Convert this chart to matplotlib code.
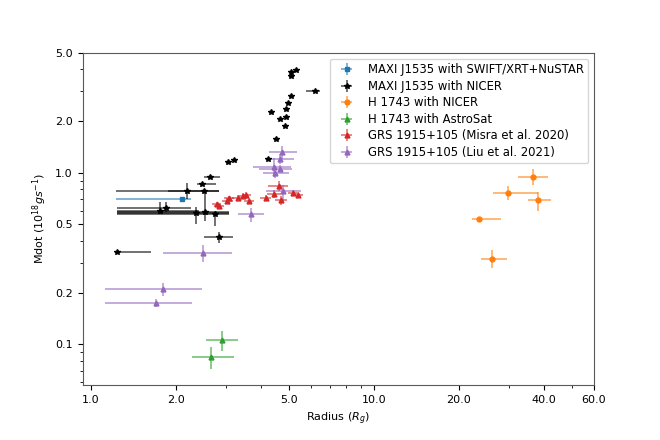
import numpy as np
import matplotlib
matplotlib.use('Agg')
import matplotlib.pyplot as plt
from matplotlib.ticker import FormatStrFormatter, NullFormatter, FixedLocator
from matplotlib.colors import to_rgba

# MAXI J1535 with SWIFT/XRT+NuSTAR
swift_r = [2.10]
swift_m = [0.706]
swift_rerr = [[0.87], [0.16]]
swift_merr = [[0.01], [0.01]]

# MAXI J1535 with NICER
nicer_r = [5.10, 5.31, 5.11, 6.19, 5.10, 4.96, 4.91, 4.32, 4.67, 4.88, 4.84, 4.50, 4.24,
           3.06, 3.21, 2.64, 2.47, 2.185, 2.51, 1.76, 1.85, 2.345, 2.53, 2.74, 2.85, 1.242]
nicer_m = [3.85, 3.99, 3.64, 3.00, 2.79, 2.55, 2.36, 2.26, 2.07, 2.10, 1.87, 1.58, 1.195,
           1.15, 1.19, 0.948, 0.863, 0.782, 0.778, 0.598, 0.626, 0.585, 0.590, 0.572, 0.422, 0.345]
nicer_rerr_lo = [0.03, 0.03, 0.03, 0.43, 0.03, 0.03, 0.03, 0.03, 0.03, 0.03, 0.03, 0.03, 0.03,
                 0.03, 0.03, 0.13, 0.10, 0.31, 1.28, 0.525, 0.615, 1.11, 1.29, 1.50, 0.33, 0.0]
nicer_rerr_hi = [0.03, 0.03, 0.03, 0.26, 0.03, 0.03, 0.03, 0.03, 0.03, 0.03, 0.03, 0.03, 0.03,
                 0.03, 0.03, 0.22, 0.30, 0.66, 0.34, 0.66, 0.41, 0.745, 0.56, 0.35, 0.34, 0.39]
nicer_merr_lo = [0.02, 0.02, 0.02, 0.02, 0.02, 0.02, 0.02, 0.02, 0.02, 0.02, 0.02, 0.02, 0.01,
                 0.01, 0.01, 0.01, 0.01, 0.08, 0.01, 0.026, 0.038, 0.085, 0.067, 0.08, 0.03, 0.005]
nicer_merr_hi = [0.02, 0.02, 0.02, 0.02, 0.02, 0.02, 0.02, 0.02, 0.02, 0.02, 0.02, 0.02, 0.01,
                 0.01, 0.01, 0.01, 0.01, 0.09, 0.01, 0.074, 0.046, 0.043, 0.188, 0.02, 0.03, 0.005]

# H 1743 with NICER
h_nicer_r = [36.4, 29.8, 38.0, 23.6, 26.2]
h_nicer_m = [0.948, 0.765, 0.690, 0.535, 0.313]
h_nicer_rerr = [[4.1, 3.4, 2.9, 1.3, 2.3], [4.9, 8.2, 4.4, 4.6, 3.4]]
h_nicer_merr = [[0.10, 0.07, 0.09, 0.02, 0.034], [0.11, 0.07, 0.085, 0.02, 0.04]]

# H 1743 with AstroSat
h_astro_r = [2.90, 2.67]
h_astro_m = [0.1055, 0.0847]
h_astro_rerr = [[0.35, 0.40], [0.42, 0.54]]
h_astro_merr = [[0.0137, 0.0127], [0.014, 0.012]]

# GRS 1915+105 (Misra et al. 2020)
misra_r = [2.79, 2.84, 3.04, 3.08, 3.30, 3.44, 3.54, 3.63, 4.16, 4.61, 4.45, 4.72, 5.17, 5.38]
misra_m = [0.66, 0.64, 0.685, 0.71, 0.715, 0.73, 0.745, 0.685, 0.715, 0.835, 0.75, 0.69, 0.765, 0.745]
misra_rerr = [0.10, 0.12, 0.13, 0.12, 0.14, 0.12, 0.13, 0.14, 0.19, 0.37, 0.24, 0.23, 0.20, 0.22]
misra_merr = [0.02, 0.02, 0.03, 0.02, 0.03, 0.03, 0.03, 0.03, 0.03, 0.055, 0.04, 0.038, 0.03, 0.03]

# GRS 1915+105 (Liu et al. 2021)
liu_r = [4.74, 4.66, 4.45, 4.66, 4.48, 4.76, 3.685, 2.487, 1.80, 1.70]
liu_m = [1.318, 1.206, 1.083, 1.055, 1.0, 0.782, 0.572, 0.343, 0.2097, 0.1745]
liu_rerr = [[0.49, 0.50, 0.70, 0.72, 0.43, 0.60, 0.38, 0.69, 0.68, 0.58],
            [0.60, 0.58, 0.65, 0.48, 0.55, 0.77, 0.40, 0.68, 0.68, 0.575]]
liu_merr = [[0.11, 0.08, 0.14, 0.05, 0.07, 0.10, 0.054, 0.04, 0.019, 0.01],
            [0.11, 0.08, 0.13, 0.05, 0.08, 0.066, 0.049, 0.037, 0.018, 0.01]]

plt.rcParams['font.size'] = 8

fig = plt.figure(figsize=(6.6, 4.4), dpi=100)
ax = fig.add_axes([0.125, 0.125, 0.775, 0.755])


def eb(x, y, xerr, yerr, color, marker, label, ms=3.5):
    ax.errorbar(x, y, xerr=xerr, yerr=yerr, fmt=marker, color=color, ms=ms,
                ecolor=to_rgba(color, 0.6), elinewidth=1.3, label=label)


eb(swift_r, swift_m, swift_rerr, swift_merr, 'tab:blue', 's', 'MAXI J1535 with SWIFT/XRT+NuSTAR')
eb(nicer_r, nicer_m, [nicer_rerr_lo, nicer_rerr_hi], [nicer_merr_lo, nicer_merr_hi],
   'black', '*', 'MAXI J1535 with NICER', ms=4)
eb(h_nicer_r, h_nicer_m, h_nicer_rerr, h_nicer_merr, 'tab:orange', 'o', 'H 1743 with NICER')
eb(h_astro_r, h_astro_m, h_astro_rerr, h_astro_merr, 'tab:green', '^', 'H 1743 with AstroSat')
eb(misra_r, misra_m, misra_rerr, misra_merr, 'tab:red', '^', 'GRS 1915+105 (Misra et al. 2020)')
eb(liu_r, liu_m, liu_rerr, liu_merr, 'tab:purple', '^', 'GRS 1915+105 (Liu et al. 2021)')

ax.set_xscale('log')
ax.set_yscale('log')
ax.set_xlim(0.935, 60)
ax.set_ylim(0.058, 5.0)

ax.xaxis.set_major_locator(FixedLocator([1, 2, 5, 10, 20, 40, 60]))
ax.xaxis.set_major_formatter(FormatStrFormatter('%.1f'))
ax.xaxis.set_minor_formatter(NullFormatter())
ax.yaxis.set_major_locator(FixedLocator([0.1, 0.2, 0.5, 1, 2, 5]))
ax.yaxis.set_major_formatter(FormatStrFormatter('%.1f'))
ax.yaxis.set_minor_formatter(NullFormatter())

for s in ax.spines.values():
    s.set_color('0.35')

ax.set_xlabel('Radius ($R_g$)')
ax.set_ylabel('Mdot ($10^{18} gs^{-1}$)')
ax.legend(loc='upper right', fontsize=8.4, labelspacing=0.3)

fig.savefig('out.png', dpi=100)
